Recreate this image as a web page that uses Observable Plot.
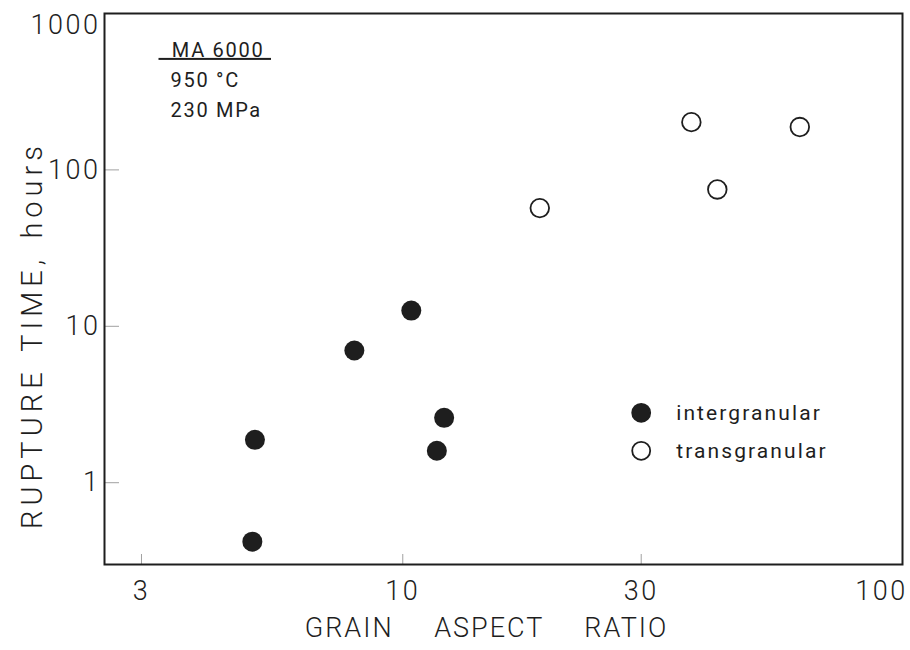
<!DOCTYPE html>
<html>
<head>
<meta charset="utf-8">
<script src="https://cdn.jsdelivr.net/npm/d3@7"></script>
<script src="https://cdn.jsdelivr.net/npm/@observablehq/plot@0.6"></script>
<style>
  html, body { margin: 0; padding: 0; background: #fff; }
  #chart { width: 910px; height: 650px; }
</style>
</head>
<body>
<div id="chart"></div>
<script>
// Intergranular (filled) points
const interRatio = [10.4, 8.0, 12.1, 5.06, 11.7, 5.0];
const interHours = [12.6, 7.0, 2.6, 1.88, 1.6, 0.42];
// Transgranular (open) points
const transRatio = [37.8, 62.3, 42.6, 18.8];
const transHours = [202, 188, 75, 57];

const xTicks = [3, 10, 30, 100];
const yTicks = [1, 10, 100, 1000];
const xTitle = "GRAIN ASPECT RATIO";
const yTitle = "RUPTURE TIME, hours";
const noteLines = ["MA 6000", "950 °C", "230 MPa"];
const legendLabels = ["intergranular", "transgranular"];
const legendRatio = [30, 30];
const legendHours = [2.8, 1.6];

const inter = interRatio.map((x, i) => ({x, y: interHours[i]}));
const trans = transRatio.map((x, i) => ({x, y: transHours[i]}));
const legend = legendLabels.map((t, i) => ({t, x: legendRatio[i], y: legendHours[i], filled: i === 0}));

const ink = "#1e1e1e";
const font = "Roboto, 'DejaVu Sans', sans-serif";
const lab = {fill: ink, fontWeight: 300, lineAnchor: "middle"};
const headText = "\u00a0\u00a0" + noteLines[0] + "\u00a0";

const chart = Plot.plot({
  width: 910,
  height: 650,
  marginLeft: 104,
  marginRight: 8,
  marginTop: 13,
  marginBottom: 86,
  style: {fontFamily: font, background: "#fff", color: ink},
  x: {type: "log", domain: [2.53, 100], axis: null},
  y: {type: "log", domain: [0.3, 1000], axis: null},
  marks: [
    // inward faint ticks
    Plot.axisY(yTicks, {anchor: "left", tickSize: 15, dx: 15, fill: "none", stroke: "#a0a0a0", strokeWidth: 1, label: null}),
    Plot.axisX(xTicks, {anchor: "bottom", tickSize: 10, dy: -10, fill: "none", stroke: "#a0a0a0", strokeWidth: 1, label: null}),
    Plot.frame({stroke: ink, strokeWidth: 2}),
    // y tick labels
    Plot.text(yTicks.slice(0, 3), {...lab, y: d => d, text: d => String(d), frameAnchor: "left", textAnchor: "end", dx: -4, fontSize: 27}),
    Plot.text(yTicks.slice(3), {...lab, y: d => d, text: d => String(d), frameAnchor: "left", textAnchor: "end", dx: -4, dy: 12, fontSize: 27}),
    // x tick labels
    Plot.text(xTicks.slice(0, 3), {...lab, x: d => d, text: d => String(d), frameAnchor: "bottom", textAnchor: "middle", dy: 27, fontSize: 27}),
    Plot.text(xTicks.slice(3), {...lab, x: d => d, text: d => String(d), frameAnchor: "bottom", textAnchor: "middle", dx: -21, dy: 27, fontSize: 27}),
    // axis titles
    Plot.text([xTitle], {...lab, text: d => d, frameAnchor: "bottom", textAnchor: "middle", dx: -17, dy: 64, fontSize: 27}),
    Plot.text([yTitle], {...lab, text: d => d, frameAnchor: "left", textAnchor: "middle", rotate: -90, dx: -72, dy: 46, fontSize: 29}),
    // annotation
    Plot.text([headText], {text: d => d, frameAnchor: "top-left", textAnchor: "start", lineAnchor: "middle", dx: 54, dy: 37, fontSize: 20, fill: ink}),
    Plot.text([noteLines[1]], {text: d => d, frameAnchor: "top-left", textAnchor: "start", lineAnchor: "middle", dx: 66, dy: 67, fontSize: 20, fill: ink}),
    Plot.text([noteLines[2]], {text: d => d, frameAnchor: "top-left", textAnchor: "start", lineAnchor: "middle", dx: 66, dy: 97, fontSize: 20, fill: ink}),
    // data points
    Plot.dot(inter, {x: "x", y: "y", r: 10, fill: ink, stroke: "none"}),
    Plot.dot(trans, {x: "x", y: "y", r: 9.3, fill: "white", stroke: ink, strokeWidth: 1.8}),
    // legend
    Plot.dot(legend, {x: "x", y: "y", r: 9, fill: d => d.filled ? ink : "white", stroke: ink, strokeWidth: 1.8}),
    Plot.text(legend, {x: "x", y: "y", text: "t", dx: 35, textAnchor: "start", lineAnchor: "middle", fontSize: 21, fill: ink})
  ]
});

document.getElementById("chart").appendChild(chart);

// typographic spacing to mimic the stencil lettering of the original
const tickStrings = new Set([...xTicks, ...yTicks].map(String));
d3.select(chart).selectAll("text").each(function () {
  const t = this.textContent;
  const s = this.style;
  if (tickStrings.has(t)) s.letterSpacing = "2.5px";
  else if (t === xTitle) { s.letterSpacing = "2px"; s.wordSpacing = "32px"; }
  else if (t === yTitle) { s.letterSpacing = "5px"; s.wordSpacing = "4px"; }
  else if (t === headText) { s.letterSpacing = "1.7px"; s.textDecoration = "underline"; }
  else if (noteLines.includes(t)) s.letterSpacing = "1.7px";
  else if (legendLabels.includes(t)) s.letterSpacing = "2.1px";
});
</script>
</body>
</html>
